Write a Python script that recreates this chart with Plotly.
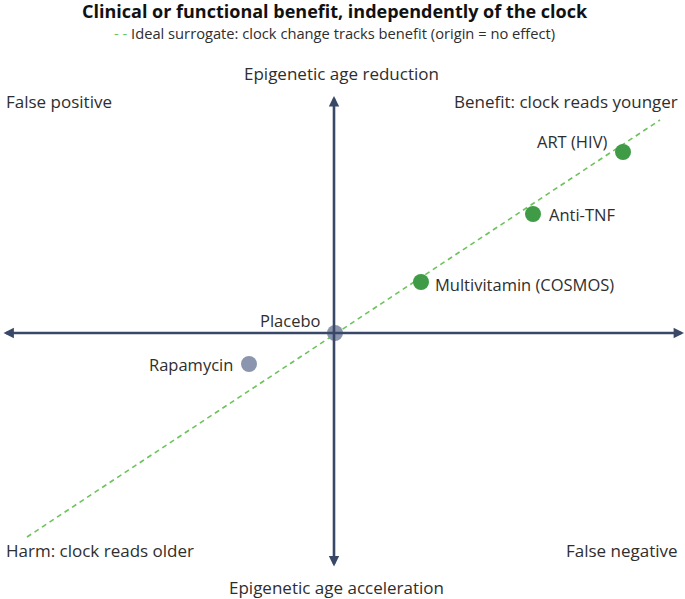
import plotly.graph_objects as go

# benefit (x) vs epigenetic age reduction (y), arbitrary units
names = ["Placebo", "Rapamycin", "Multivitamin (COSMOS)", "Anti-TNF", "ART (HIV)"]
benefit = [0.0, -0.86, 0.86, 1.98, 2.88]
clock_reduction = [0.0, -0.31, 0.51, 1.19, 1.81]
groups = ["null", "null", "benefit", "benefit", "benefit"]

ideal_x = [-3.08, 3.25]
ideal_y = [-2.04, 2.13]

W, H = 685, 599
GREEN = "#3f9b45"
GREY = "#8b96ae"
AXIS = "#3a4868"
DASH_GREEN = "#6cc35a"
TEXT = "#2e2e2e"
FONT = "Open Sans"


def px(x):
    return x / W


def py(y):
    return 1 - y / H


fig = go.Figure()

fig.add_trace(
    go.Scatter(
        x=ideal_x,
        y=ideal_y,
        mode="lines",
        line=dict(color=DASH_GREEN, width=1.6, dash="5px,4px"),
        hoverinfo="skip",
        showlegend=False,
    )
)

fig.add_trace(
    go.Scatter(
        x=benefit,
        y=clock_reduction,
        mode="markers",
        marker=dict(
            size=16,
            color=[GREEN if g == "benefit" else GREY for g in groups],
            line_width=0,
        ),
        text=names,
        hoverinfo="text",
        showlegend=False,
    )
)

annotations = []

# axis arrows (double headed)
annotations.append(
    dict(x=3.49, y=0, ax=-3.33, ay=0, xref="x", yref="y", axref="x", ayref="y",
         text="", showarrow=True, arrowhead=2, arrowside="end+start",
         arrowsize=0.8, arrowwidth=2.6, arrowcolor=AXIS, standoff=0, startstandoff=0)
)
annotations.append(
    dict(x=-0.01, y=2.37, ax=-0.01, ay=-2.35, xref="x", yref="y", axref="x", ayref="y",
         text="", showarrow=True, arrowhead=2, arrowside="end+start",
         arrowsize=0.8, arrowwidth=2.6, arrowcolor=AXIS, standoff=0, startstandoff=0)
)

# point labels
label_pos = {
    "Placebo": ("right", -12, 13),
    "Rapamycin": ("right", -14, 0),
    "Multivitamin (COSMOS)": ("left", 12, -2),
    "Anti-TNF": ("left", 14, 0),
    "ART (HIV)": ("right", -14, 11),
}
for n, bx, cy in zip(names, benefit, clock_reduction):
    anchor, xs, ys = label_pos[n]
    annotations.append(
        dict(x=bx, y=cy, xref="x", yref="y", text=n, showarrow=False,
             xanchor=anchor, yanchor="middle", xshift=xs, yshift=ys,
             font=dict(family=FONT, size=16.5, color=TEXT))
    )

# title and key
annotations.append(
    dict(x=px(335), y=py(11), xref="paper", yref="paper", showarrow=False,
         text="<b>Clinical or functional benefit, independently of the clock</b>",
         xanchor="center", yanchor="middle",
         font=dict(family=FONT, size=18, color="#111111"))
)
annotations.append(
    dict(x=px(334), y=py(33), xref="paper", yref="paper", showarrow=False,
         text=f"<span style='color:{DASH_GREEN}'>- -</span> Ideal surrogate: clock change tracks benefit (origin = no effect)",
         xanchor="center", yanchor="middle",
         font=dict(family=FONT, size=14.7, color=TEXT))
)

# axis and quadrant labels
side_labels = [
    ("Epigenetic age reduction", 341, 74, "center"),
    ("Epigenetic age acceleration", 336, 587, "center"),
    ("False positive", 4, 102, "left"),
    ("Benefit: clock reads younger", 680, 102, "right"),
    ("Harm: clock reads older", 4, 550, "left"),
    ("False negative", 680, 550, "right"),
]
for t, x, y, anchor in side_labels:
    annotations.append(
        dict(x=px(x), y=py(y), xref="paper", yref="paper", text=t, showarrow=False,
             xanchor=anchor, yanchor="middle",
             font=dict(family=FONT, size=17, color=TEXT))
    )

fig.update_layout(
    width=W,
    height=H,
    margin=dict(l=0, r=0, t=0, b=0),
    paper_bgcolor="white",
    plot_bgcolor="white",
    xaxis=dict(range=[-3.35, 3.50], visible=False, fixedrange=True),
    yaxis=dict(range=[-2.66, 3.33], visible=False, fixedrange=True),
    annotations=annotations,
)

fig.write_html(
    "out.html",
    config={"displayModeBar": False},
    post_script="document.body.style.margin='0';",
)
